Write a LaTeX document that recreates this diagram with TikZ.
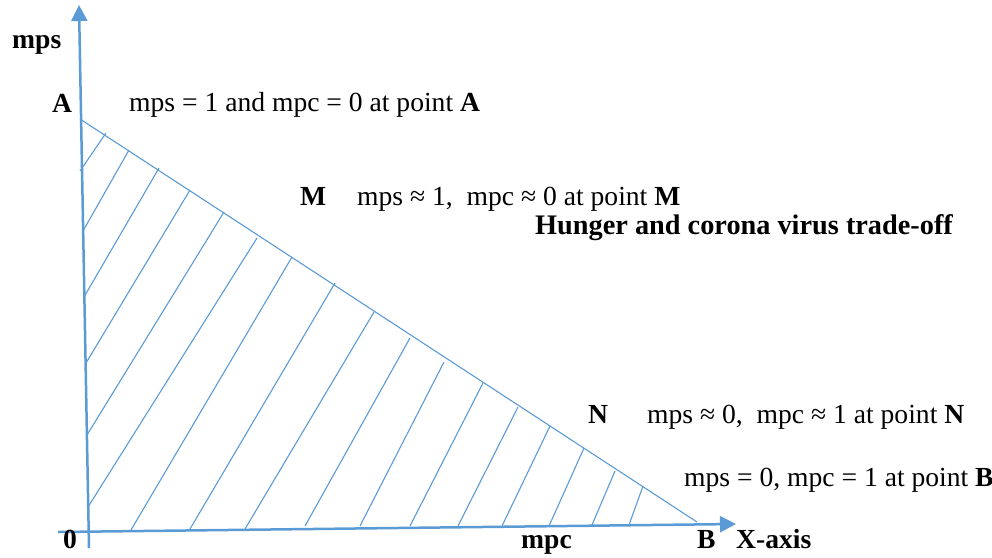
\documentclass[tikz,border=0pt]{standalone}
\usepackage{fontspec}
\setmainfont{Liberation Serif}
\usetikzlibrary{arrows.meta}
\definecolor{axisblue}{HTML}{5B9BD5}

\begin{document}
\begin{tikzpicture}[x=1pt,y=-1pt,
  every node/.style={font=\fontsize{27.6}{32}\selectfont,inner sep=0pt,anchor=base west},
  axisline/.style={draw=axisblue,line width=2.5pt,-{Triangle[length=16pt,width=16pt]}},
  hatch/.style={draw=axisblue,line width=1.1pt}]
  \useasboundingbox (0,0) rectangle (992,557);
  \coordinate (yfoot) at (89,548);
  \coordinate (ytip) at (79,5);
  \coordinate (xfoot) at (58,532);
  \coordinate (xtip) at (736,524);
  \coordinate (A) at (80,119);
  \coordinate (B) at (697,522);

  \foreach \x/\y/\u/\v in {80/171/106/133, 83/231/129/150, 84/297/159/168,
      86/363/190/190, 87/435/224/212, 88/507/257/238, 131/530/292/257,
      190/529/335/283, 245/529/374/312, 305/526/410/338, 360/526/444/362,
      410/526/483/383, 458/526/518/407, 502/526/550/426, 549/526/584/448,
      592/525/615/471, 629/525/643/486} {
    \draw[hatch] (\x,\y) -- (\u,\v);
  }
  \draw[hatch] (A) -- (B);
  \draw[axisline] (yfoot) -- (ytip);
  \draw[axisline] (xfoot) -- (xtip);

  \node (lblmps) at (12,48) {\bfseries mps};
  \node (lblA) at (52,112) {\bfseries A};
  \node (txtA) at (129,111) {mps = 1 and mpc = 0 at point \textbf{A}};
  \node (lblM) at (300,205) {\bfseries M};
  \node (txtM) at (357,205) {mps ≈ 1,\ \ mpc ≈ 0 at point \textbf{M}};
  \node (title) at (535,234) {\fontsize{28.3}{32}\selectfont\bfseries Hunger and corona virus trade-off};
  \node (lblN) at (588,423) {\bfseries N};
  \node (txtN) at (647,423) {mps ≈ 0,\ \ mpc ≈ 1 at point \textbf{N}};
  \node (txtB) at (684,486) {mps = 0, mpc = 1 at point \textbf{B}};
  \node (lblO) at (63,548) {\bfseries 0};
  \node (lblmpc) at (521,548) {\bfseries mpc};
  \node (lblB) at (697,548) {\bfseries B};
  \node (lblxaxis) at (736,548) {\bfseries X-axis};
\end{tikzpicture}
\end{document}
